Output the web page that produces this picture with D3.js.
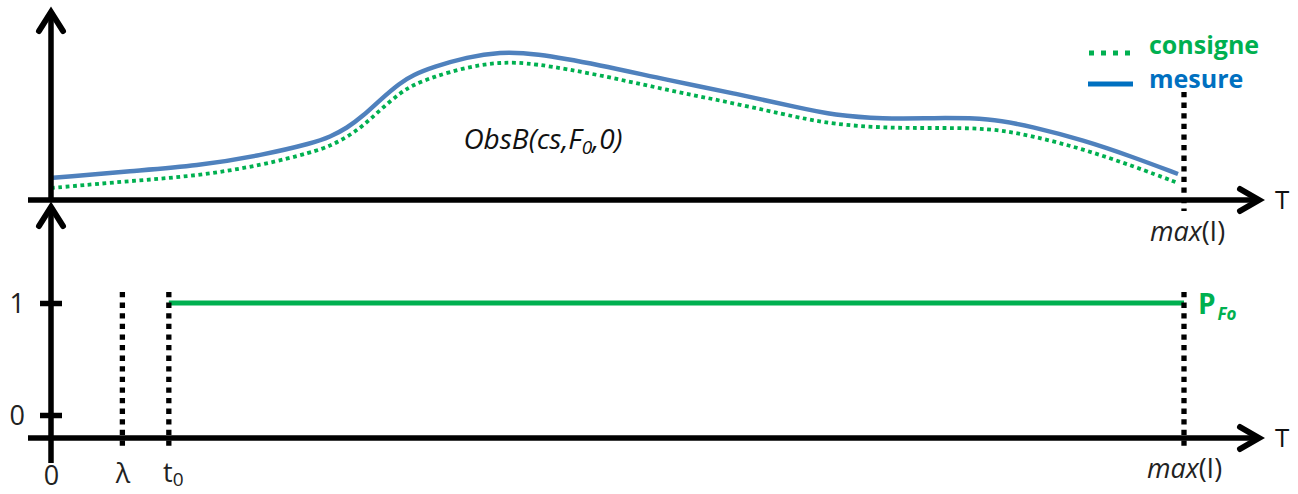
<!DOCTYPE html>
<html>
<head>
<meta charset="utf-8">
<script src="https://cdn.jsdelivr.net/npm/d3@7"></script>
<style>
  html, body { margin: 0; padding: 0; background: #fff; }
  svg { display: block; font-family: "Open Sans", "DejaVu Sans", sans-serif; }
</style>
</head>
<body>
<svg id="chart" width="1298" height="494"></svg>
<script>
// ---- data ----
const timeMax = 100;          // max(I)
const lambdaT = 6.3;          // λ
const t0 = 10.4;              // t0
const timeSamples    = [0, 1.06, 6.97, 12.89, 18.71, 23.12, 24.62, 26.13, 27.54, 29.04, 30.80, 31.95, 33.72, 36.72, 39.63, 42.54, 48.46, 54.37, 60.19, 66.11, 69.02, 73.43, 77.85, 82.88, 86.67, 91.09, 95.50, 99.47];
const mesureValues   = [22, 23, 29, 34, 45, 57, 63, 72, 84, 100, 117, 125, 133, 143, 148, 147, 135, 120, 107, 92, 85, 81, 82, 82, 73, 60, 43, 26];
const consigneValues = [12, 13, 19, 24, 35, 48, 54, 63, 74, 90, 107, 115, 123, 133, 138, 137, 125, 110, 97, 82, 76, 72, 72, 72, 64, 51, 34, 17];
const pFoTimes  = [t0, timeMax];
const pFoValues = [1, 1];
const yBotTicks = [0, 1];
const legendLabels = ["consigne", "mesure"];

// ---- layout ----
const svg = d3.select("#chart");
const x = d3.scaleLinear().domain([0, timeMax]).range([51, 1184]);
const yTop = d3.scaleLinear().domain([0, 150]).range([200, 50]);
const yBot = d3.scaleLinear().domain([0, 1]).range([415, 303]);
const AX = 5.5;
const green = "#00B050", blueCurve = "#4F81BD", blueText = "#0070C0";
const axisTopY = yTop(0), axisBotY = 438;
const LBL = 27;

const line = d3.line().x(d => x(d[0])).y(d => yTop(d[1])).curve(d3.curveBasis);

// curves
svg.append("path")
  .datum(timeSamples.map((t, i) => [t, mesureValues[i]]))
  .attr("d", line).attr("fill", "none").attr("stroke", blueCurve).attr("stroke-width", 4.5);
svg.append("path")
  .datum(timeSamples.map((t, i) => [t, consigneValues[i]]))
  .attr("d", line).attr("fill", "none").attr("stroke", green).attr("stroke-width", 3.8)
  .attr("stroke-dasharray", "3.8,3.6");

// P_Fo step line
svg.append("path")
  .datum(pFoTimes.map((t, i) => [t, pFoValues[i]]))
  .attr("d", d3.line().x(d => x(d[0])).y(d => yBot(d[1])))
  .attr("stroke", green).attr("stroke-width", 5).attr("fill", "none");

// dashed verticals
const dash = "5.3,5.3";
svg.append("line").attr("x1", x(timeMax)).attr("x2", x(timeMax)).attr("y1", 92).attr("y2", 211)
  .attr("stroke", "#000").attr("stroke-width", 5.3).attr("stroke-dasharray", dash);
[lambdaT, t0, timeMax].forEach(t => {
  svg.append("line").attr("x1", x(t)).attr("x2", x(t)).attr("y1", 292).attr("y2", 449)
    .attr("stroke", "#000").attr("stroke-width", 5.3).attr("stroke-dasharray", dash);
});

// axes lines + arrowheads
function hLine(y) {
  svg.append("line").attr("x1", 28).attr("x2", 1258).attr("y1", y).attr("y2", y)
    .attr("stroke", "#000").attr("stroke-width", AX);
  svg.append("path").attr("d", `M1240,${y - 11} L1259,${y} L1240,${y + 11}`)
    .attr("fill", "none").attr("stroke", "#000").attr("stroke-width", AX + 0.5)
    .attr("stroke-linejoin", "miter").attr("stroke-linecap", "round");
  svg.append("text").attr("x", 1275).attr("y", y + 9).attr("font-size", 26).attr("fill", "#111").text("T");
}
function vLine(yTip, yEnd) {
  svg.append("line").attr("x1", 51).attr("x2", 51).attr("y1", yTip + 2).attr("y2", yEnd)
    .attr("stroke", "#000").attr("stroke-width", AX);
  svg.append("path").attr("d", `M39,${yTip + 20} L51,${yTip + 1} L63,${yTip + 20}`)
    .attr("fill", "none").attr("stroke", "#000").attr("stroke-width", AX + 0.5)
    .attr("stroke-linejoin", "miter").attr("stroke-linecap", "round");
}
vLine(11, axisTopY + 2);
vLine(206, 463);
hLine(axisTopY);
hLine(axisBotY);

// bottom y ticks
const yAxis = d3.axisLeft(yBot).tickValues(yBotTicks).tickSize(22).tickPadding(15).tickFormat(d3.format("d"));
const gy = svg.append("g").attr("transform", "translate(62,0)").call(yAxis);
gy.select(".domain").remove();
gy.selectAll(".tick line").attr("stroke", "#000").attr("stroke-width", AX);
gy.selectAll(".tick text").attr("font-size", LBL).attr("font-family", "Open Sans").attr("fill", "#222").attr("dy", "0.36em");

// bottom x tick labels
const xAxis = d3.axisBottom(x).tickValues([0, lambdaT, t0, timeMax]).tickSize(0).tickPadding(0);
const gx = svg.append("g").attr("transform", `translate(0,${axisBotY})`).call(xAxis);
gx.select(".domain").remove();
gx.selectAll(".tick text").attr("font-size", LBL).attr("font-family", "Open Sans").attr("fill", "#222")
  .attr("dy", null).attr("y", 0).text(null)
  .each(function (d) {
    const t = d3.select(this);
    if (d === 0) { t.attr("y", 47).text("0"); }
    else if (d === lambdaT) { t.attr("y", 45).text("λ"); }
    else if (d === t0) {
      t.attr("y", 44).attr("dx", 4);
      t.append("tspan").text("t");
      t.append("tspan").attr("font-size", 19).attr("dy", 4).text("0");
    } else {
      t.attr("y", 40);
      t.append("tspan").attr("font-style", "italic").text("max");
      t.append("tspan").text("(I)");
    }
  });

// top x label max(I)
const gxt = svg.append("g").attr("transform", `translate(0,${axisTopY})`)
  .call(d3.axisBottom(x).tickValues([timeMax]).tickSize(0).tickFormat(""));
gxt.select(".domain").remove();
gxt.selectAll(".tick text").attr("font-size", LBL).attr("font-family", "Open Sans").attr("fill", "#222")
  .attr("dy", null).attr("y", 41).attr("dx", 3)
  .each(function () {
    const t = d3.select(this);
    t.append("tspan").attr("font-style", "italic").text("max");
    t.append("tspan").text("(I)");
  });

// ObsB label
const obs = svg.append("text").attr("x", 543).attr("y", 149).attr("text-anchor", "middle")
  .attr("font-size", 28).attr("font-style", "italic").attr("fill", "#111");
obs.append("tspan").text("ObsB(cs,F");
obs.append("tspan").attr("font-size", 19).attr("dy", 5).text("0");
obs.append("tspan").attr("dy", -5).text(",0)");

// P_Fo label
const pf = svg.append("text").attr("x", 1198).attr("y", 314).attr("fill", green).attr("font-weight", "bold").attr("font-size", 28);
pf.append("tspan").text("P");
pf.append("tspan").attr("font-size", 17).attr("font-style", "italic").attr("dy", 6).attr("dx", 2).text("Fo");

// legend
svg.append("line").attr("x1", 1089).attr("x2", 1132).attr("y1", 53).attr("y2", 53)
  .attr("stroke", green).attr("stroke-width", 5).attr("stroke-dasharray", "5,7");
svg.append("text").attr("x", 1149).attr("y", 54).attr("fill", green).attr("font-weight", "bold").attr("font-size", 25).text(legendLabels[0]);
svg.append("line").attr("x1", 1088).attr("x2", 1133).attr("y1", 84).attr("y2", 84)
  .attr("stroke", blueText).attr("stroke-width", 5);
svg.append("text").attr("x", 1149).attr("y", 88).attr("fill", blueText).attr("font-weight", "bold").attr("font-size", 25).text(legendLabels[1]);
</script>
</body>
</html>
